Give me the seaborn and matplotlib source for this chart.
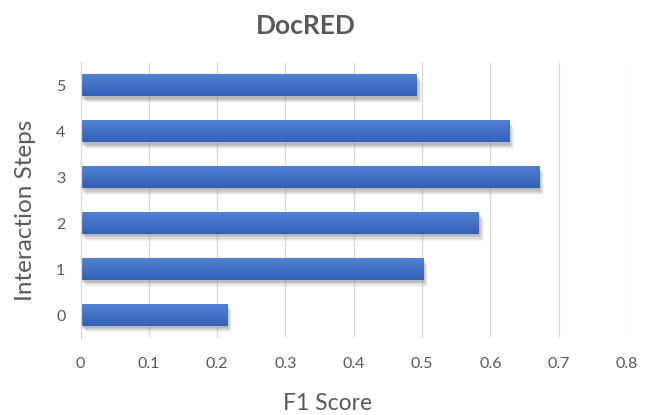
import numpy as np
import pandas as pd
import matplotlib
matplotlib.use("Agg")
import matplotlib.pyplot as plt
import matplotlib.patheffects as pe
from matplotlib.colors import LinearSegmentedColormap
import seaborn as sns

# F1 score per number of interaction steps
steps = ["5", "4", "3", "2", "1", "0"]
f1_scores = [0.492, 0.627, 0.671, 0.583, 0.501, 0.214]
x_ticks = [0, 0.1, 0.2, 0.3, 0.4, 0.5, 0.6, 0.7, 0.8]
x_tick_labels = ["0", "0.1", "0.2", "0.3", "0.4", "0.5", "0.6", "0.7", "0.8"]

df = pd.DataFrame({"Interaction Steps": steps, "F1 Score": f1_scores})

sns.set_theme(style="white")
plt.rcParams["font.family"] = ["Lato", "DejaVu Sans"]

text_grey = "#595959"
grid_grey = "#d9d9d9"
bar_blue = "#4472c4"

fig = plt.figure(figsize=(6.47, 4.15), dpi=100)
ax = fig.add_axes([0.1247, 0.1855, 0.8441, 0.6639])

sns.barplot(data=df, x="F1 Score", y="Interaction Steps", order=steps,
            orient="h", color=bar_blue, saturation=1, width=0.48, ax=ax)

ax.set_xlim(0, 0.8)
ax.set_ylim(len(steps) - 0.5, -0.5)

# bar shading: soft drop shadow plus vertical gradient fill (light on top)
grad = LinearSegmentedColormap.from_list("bar_grad", ["#5182d4", "#4472c4", "#3260b8"])
gradient = np.linspace(0, 1, 64).reshape(-1, 1)
shadow_layers = [
    pe.SimplePatchShadow(offset=(o, -1.3 * o), shadow_rgbFace="#808080", alpha=a)
    for o, a in [(3.6, 0.08), (3.0, 0.11), (2.4, 0.15), (1.8, 0.18), (1.2, 0.2)]
]
for patch in ax.patches:
    patch.set_edgecolor("none")
    patch.set_path_effects(shadow_layers + [pe.Normal()])
    x0, y0 = patch.get_x(), patch.get_y()
    w, h = patch.get_width(), patch.get_height()
    im = ax.imshow(gradient[::-1], cmap=grad, aspect="auto", interpolation="bicubic",
                   extent=(x0, x0 + w, y0, y0 + h), origin="upper",
                   zorder=patch.get_zorder() + 0.1)
    im.set_clip_path(patch)

ax.set_xlim(0, 0.8)
ax.set_ylim(len(steps) - 0.5, -0.5)

ax.set_xticks(x_ticks)
ax.set_xticklabels(x_tick_labels)
ax.xaxis.grid(True, color=grid_grey, linewidth=0.9)
ax.yaxis.grid(False)
ax.set_axisbelow(True)
for side in ["top", "right", "bottom"]:
    ax.spines[side].set_visible(False)
ax.spines["left"].set_color(grid_grey)
ax.spines["left"].set_linewidth(0.9)

ax.tick_params(axis="x", length=0, pad=14, labelsize=11.5, labelcolor=text_grey)
ax.tick_params(axis="y", length=0, pad=11, labelsize=11.5, labelcolor=text_grey)

ax.set_xlabel("F1 Score", fontsize=16.5, color=text_grey)
ax.xaxis.label.set_va("center")
ax.xaxis.set_label_coords(0.4513, -0.236)

ax.set_ylabel("Interaction Steps", fontsize=17.5, color=text_grey)
ax.yaxis.label.set_va("center")
ax.yaxis.set_label_coords(-0.1016, 0.465)

ax.set_title("DocRED", fontsize=19, fontweight="bold", color=text_grey,
             x=0.4128, y=1.104, va="center")

fig.savefig("out.png", dpi=100, facecolor="white")
